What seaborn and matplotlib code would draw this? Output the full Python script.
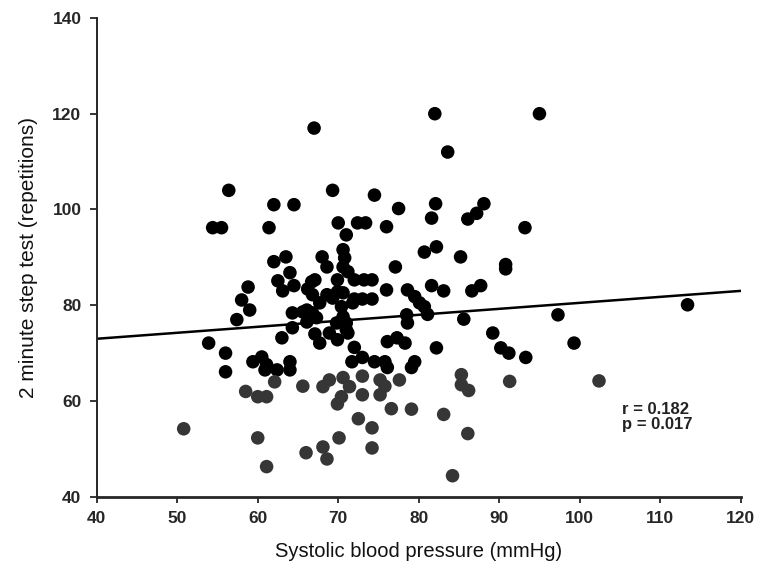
import numpy as np
import pandas as pd
import matplotlib
matplotlib.use("Agg")
import matplotlib.pyplot as plt
import seaborn as sns

# Systolic blood pressure (mmHg) and 2 minute step test (repetitions)
sbp = [67, 82, 95, 83.6,
       56.4, 69.3, 74.5,
       62, 64.5, 77.5, 82.1, 88.1,
       81.6, 87.2, 86.1,
       54.4, 55.5, 61.4, 70, 72.4, 73.4, 76, 93.2,
       71,
       70.6, 68, 80.7, 82.2, 85.2, 63.5, 62,
       70.8, 68.6, 70.6, 77.1, 90.8, 90.8, 64, 71.2,
       62.5, 67.1, 69.9, 72, 73.2, 74.2, 66.7,
       64.5, 58.8, 81.6, 87.7,
       63.1, 66.2, 69.9, 76, 78.6, 83.1, 86.6,
       66.8, 68.6, 79.5, 70.6,
       58, 72, 73, 74.2, 69.3,
       80.1, 67.7, 71.8,
       113.4,
       59, 66.1, 70.4, 64.3, 65.6, 80.7,
       66.8, 78.5, 81.1, 97.3, 57.4, 70.6, 67.3, 85.6,
       66.1, 71, 69.8, 78.6,
       64.3, 71,
       67.1, 68.9, 71.2, 89.2, 77.3,
       63, 69.9, 67.7, 53.9, 76.1, 78.3, 99.3,
       72, 82.2, 90.2,
       56, 91.2, 73, 60.5, 93.3,
       59.4, 64, 71.7, 74.5, 75.8, 79.5,
       61.1, 76.1, 79.1,
       56, 60.9, 62.4, 64,
       85.3, 73, 70.6, 62.1, 68.9, 75.2, 77.6, 91.3, 102.4,
       65.6, 68.1, 71.4, 75.8, 85.3,
       58.5, 86.2, 73, 75.2, 60, 61.1, 70.4,
       69.9, 76.6, 79.1, 83.1, 72.5,
       74.2, 50.8, 86.1, 60, 70.1,
       68.1, 74.2, 66, 68.6, 61.1, 84.2]

steps = [117, 120, 120, 112,
         104, 104, 103,
         101, 101, 100.2, 101.2, 101.2,
         98.2, 99.2, 98,
         96.2, 96.2, 96.2, 97.2, 97.2, 97.2, 96.4, 96.2,
         94.7,
         91.6, 90.1, 91.1, 92.2, 90.1, 90.1, 89.1,
         89.9, 88, 88, 88, 88.5, 87.6, 86.8, 87,
         85.1, 85.3, 85.3, 85.3, 85.3, 85.3, 84.9,
         84.1, 83.8, 84.1, 84.1,
         83, 83.4, 82.8, 83.2, 83.2, 83, 83,
         82.2, 82.2, 81.8, 82.6,
         81.1, 81.3, 81.3, 81.3, 81.5,
         80.5, 80.5, 80.5,
         80.1,
         79, 79, 79.7, 78.4, 78.6, 79.7,
         78.4, 78, 78.1, 78, 77, 77.6, 77.4, 77.1,
         76.5, 76.3, 76.3, 76.3,
         75.3, 74.9,
         74, 74.2, 74.2, 74.2, 73.2,
         73.2, 72.8, 72.1, 72.1, 72.4, 72.1, 72.1,
         71.2, 71.1, 71.1,
         70, 70, 69.1, 69.2, 69.1,
         68.2, 68.2, 68.2, 68.2, 68.2, 68.2,
         67.6, 67, 67,
         66.1, 66.5, 66.5, 66.5,
         65.5, 65.2, 64.9, 64, 64.4, 64.4, 64.4, 64.1, 64.2,
         63.1, 63, 63, 63.1, 63.4,
         62, 62.2, 61.3, 61.3, 60.9, 60.9, 60.9,
         59.4, 58.4, 58.3, 57.2, 56.3,
         54.4, 54.2, 53.2, 52.3, 52.3,
         50.4, 50.2, 49.2, 47.9, 46.3, 44.4]

fit_x = [40, 120]
fit_y = [73, 83]

x_ticks = [40, 50, 60, 70, 80, 90, 100, 110, 120]
y_ticks = [40, 60, 80, 100, 120, 140]

stats_text = "r = 0.182\np = 0.017"
x_label = "Systolic blood pressure (mmHg)"
y_label = "2 minute step test (repetitions)"

df = pd.DataFrame({"sbp": sbp, "steps": steps})
fit = pd.DataFrame({"x": fit_x, "y": fit_y})

sns.set_style("ticks")
plt.rcParams["font.family"] = ["Liberation Sans", "DejaVu Sans"]

fig = plt.figure(figsize=(7.62, 5.79), dpi=100)
ax = fig.add_axes([0.127, 0.142, 0.845, 0.827])

upper = df[df["steps"] >= 66]
lower = df[df["steps"] < 66]
sns.scatterplot(data=upper, x="sbp", y="steps", ax=ax, color="black",
                s=95, marker="o", edgecolor="none", linewidth=0, zorder=3)
sns.scatterplot(data=lower, x="sbp", y="steps", ax=ax, color="#363636",
                s=95, marker="o", edgecolor="none", linewidth=0, zorder=3)
sns.lineplot(data=fit, x="x", y="y", ax=ax, color="black", linewidth=1.8, zorder=2)

ax.set_xlim(40, 120)
ax.set_ylim(40, 140)
ax.set_xticks(x_ticks)
ax.set_yticks(y_ticks)
ax.tick_params(axis="x", labelsize=12.5, width=1.3, length=4, direction="out", pad=6)
ax.tick_params(axis="y", labelsize=12.5, width=1.3, length=5, direction="out", pad=6)
for lab in ax.get_xticklabels() + ax.get_yticklabels():
    lab.set_fontweight("bold")
ax.set_xlabel(x_label, fontsize=14.5, labelpad=12, color="#111111")
ax.set_ylabel(y_label, fontsize=15, labelpad=10, color="#111111")
sns.despine(ax=ax)
ax.spines["left"].set_linewidth(1.4)
ax.spines["bottom"].set_linewidth(2.0)

ax.text(105.2, 59.7, stats_text, fontsize=12, fontweight="bold", va="top",
        ha="left", linespacing=1.0, color="#222222")

fig.savefig("out.png", dpi=100)
